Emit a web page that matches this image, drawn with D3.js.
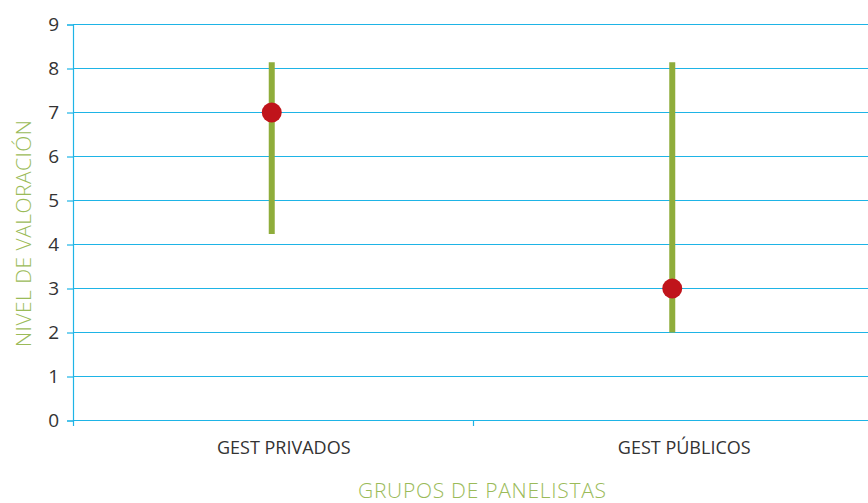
<!DOCTYPE html>
<html><head><meta charset="utf-8">
<script src="https://cdn.jsdelivr.net/npm/d3@7"></script>
<style>body{margin:0;background:#fff}svg{display:block}</style>
</head><body><div id="c"></div>
<script>
const categories = ["GEST PRIVADOS", "GEST PÚBLICOS"];
const lowValues = [4.24, 2.0];
const highValues = [8.14, 8.14];
const pointValues = [7, 3];
const yTicks = [0,1,2,3,4,5,6,7,8,9];
const yTitle = "NIVEL DE VALORACIÓN";
const xTitle = "GRUPOS DE PANELISTAS";

const W = 868, H = 503;
const svg = d3.select("#c").append("svg").attr("width", W).attr("height", H);
const y = d3.scaleLinear().domain([0, 9]).range([420.5, 24.5]);
const x = d3.scaleBand().domain(categories).range([72.5, 873.5]);
const blue = "#1eb4e6", green = "#8fad3b", red = "#c0141b", titleGreen = "#9bbb59";

// gridlines
svg.append("g").selectAll("line").data(yTicks).join("line")
  .attr("x1", 73).attr("x2", W).attr("y1", d => y(d)).attr("y2", d => y(d))
  .attr("stroke", blue).attr("stroke-width", 1.2);

// y axis
const ya = svg.append("g").attr("transform", "translate(73,0)")
  .call(d3.axisLeft(y).tickValues(yTicks).tickSize(6).tickPadding(8));
ya.select(".domain").attr("stroke", blue).attr("stroke-width", 1.2);
ya.selectAll(".tick line").attr("stroke", blue).attr("stroke-width", 1.2);
ya.selectAll(".tick text").attr("font-family", "Open Sans").attr("font-size", 19).attr("fill", "#333");

// x axis boundary ticks
const bounds = [x.range()[0], x(categories[1])];
svg.append("g").selectAll("line").data(bounds).join("line")
  .attr("x1", d => Math.round(d) + 0.5).attr("x2", d => Math.round(d) + 0.5)
  .attr("y1", 420).attr("y2", 426).attr("stroke", blue).attr("stroke-width", 1.2);

// category labels
svg.append("g").selectAll("text").data(categories).join("text")
  .attr("x", d => x(d) + x.bandwidth() / 2 + 11).attr("y", 454)
  .attr("text-anchor", "middle").attr("font-family", "Open Sans").attr("font-size", 18)
  .attr("fill", "#333").text(d => d);

// range bars
svg.append("g").selectAll("line").data(categories).join("line")
  .attr("x1", d => x(d) + x.bandwidth() / 2 - 1).attr("x2", d => x(d) + x.bandwidth() / 2 - 1)
  .attr("y1", (d, i) => y(lowValues[i])).attr("y2", (d, i) => y(highValues[i]))
  .attr("stroke", green).attr("stroke-width", 6);

// points
svg.append("g").selectAll("circle").data(categories).join("circle")
  .attr("cx", d => x(d) + x.bandwidth() / 2 - 1).attr("cy", (d, i) => y(pointValues[i]))
  .attr("r", 10).attr("fill", red);

// titles
svg.append("text").attr("transform", "translate(31,233.5) rotate(-90)")
  .attr("text-anchor", "middle").attr("font-family", "Open Sans").attr("font-weight", 300)
  .attr("font-size", 21).attr("textLength", 227).attr("lengthAdjust", "spacing")
  .attr("fill", titleGreen).text(yTitle);
svg.append("text").attr("x", 482).attr("y", 498)
  .attr("text-anchor", "middle").attr("font-family", "Open Sans").attr("font-weight", 300)
  .attr("font-size", 21).attr("textLength", 248).attr("lengthAdjust", "spacing")
  .attr("fill", titleGreen).text(xTitle);
</script></body></html>
